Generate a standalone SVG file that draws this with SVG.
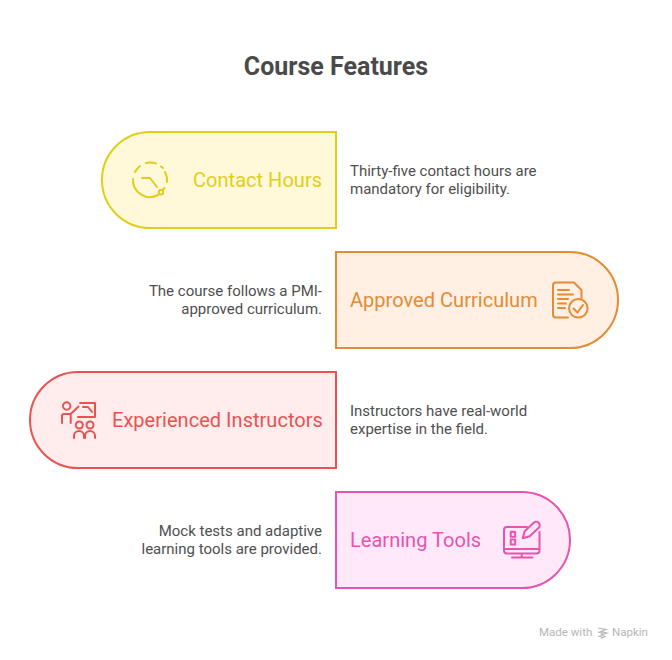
<svg xmlns="http://www.w3.org/2000/svg" width="672" height="660" viewBox="0 0 672 660">
<style>
text{font-family:Roboto,"Liberation Sans",sans-serif}
.title{font-size:25px;font-weight:700;fill:#4a4a4a}
.label{font-size:20px;letter-spacing:.03px}
.desc{font-size:15px;fill:#4f4f4f}
.wm{font-size:11.500px;fill:#b5b5b5}
.shape{stroke-width:2}
.icon{fill:none;stroke-width:2;stroke-linecap:round;stroke-linejoin:round}
.y{stroke:#e3cd18}.o{stroke:#e58a35}.r{stroke:#ea5252}.p{stroke:#e654b0}
</style>
<rect width="672" height="660" fill="#fff"/>
<text class="title" x="336" y="74.500" text-anchor="middle">Course Features</text>
<g id="node-contact-hours">
<path class="shape y" fill="#fff9d9" d="M336 132H150A48 48 0 0 0 150 228H336Z"/>
<g class="icon y">
<path d="M135 172A17 17 0 0 1 140 166M146 163A17 17 0 0 1 156 163.500M161 166.500A17 17 0 0 1 163 168M165 172A17 17 0 0 1 167 182M164.500 188L162.500 190M158 195A17 17 0 0 1 133 179"/>
<path d="M142 178h8l7 9"/>
<circle cx="161" cy="192.300" r="2.200"/>
</g>
<text class="label" x="193" y="187" fill="#e3cd18">Contact Hours</text>
</g>
<g id="node-approved-curriculum">
<path class="shape o" fill="#fff0e3" d="M336 252H570A48 48 0 0 1 570 348H336Z"/>
<g class="icon o">
<path d="M581.500 298V290L574 282.500H556a3 3 0 0 0-3 3V314.500a3 3 0 0 0 3 3H568"/>
<path d="M558 290h11M558 294.500h15M558 299h10M558 303.500h8M558 308h7"/>
<circle cx="578.300" cy="308.300" r="9.300"/>
<path d="M573.500 308.500l4 4 5.500-7.500"/>
</g>
<text class="label" x="350" y="307" fill="#e58a35">Approved Curriculum</text>
</g>
<g id="node-experienced-instructors">
<path class="shape r" fill="#ffecec" d="M336 372H78A48 48 0 0 0 78 468H336Z"/>
<g class="icon r">
<circle cx="66.700" cy="406" r="3.700"/>
<path d="M62 423V416a2 2 0 0 1 2-2H70.700L78.500 406.500M70.700 414V423"/>
<path d="M80 403H95V417H78M83 407h5l4 5"/>
<circle cx="79.300" cy="425" r="3.500"/><circle cx="90" cy="425" r="3.500"/>
<path d="M74 438v-2a5 5 0 0 1 10 0v2M85 438v-2a5 5 0 0 1 10 0v2"/>
</g>
<text class="label" x="112" y="427" fill="#ea5252">Experienced Instructors</text>
</g>
<g id="node-learning-tools">
<path class="shape p" fill="#ffe9f8" d="M336 492H522A48 48 0 0 1 522 588H336Z"/>
<g class="icon p">
<path d="M527 527H507a3 3 0 0 0-3 3V550.500a3 3 0 0 0 3 3H536.500a3 3 0 0 0 3-3V532M504 549h35.500M521.700 553.500v4M512 557.500h20.500"/>
<path d="M510.700 531.700h4.500v5h-4.500ZM510.700 539.500h4.500v5h-4.500Z"/>
<path d="M522.700 538.300l2-7 9-8.500a3 3 0 0 1 5 5l-9 8.500Z"/>
</g>
<text class="label" x="350" y="547" fill="#e654b0">Learning Tools</text>
</g>
<g id="descriptions">
<text class="desc" x="350" y="176">Thirty-five contact hours are</text>
<text class="desc" x="350" y="194">mandatory for eligibility.</text>
<text class="desc" x="322" y="296" text-anchor="end">The course follows a PMI-</text>
<text class="desc" x="322" y="314" text-anchor="end">approved curriculum.</text>
<text class="desc" x="350" y="416">Instructors have real-world</text>
<text class="desc" x="350" y="434">expertise in the field.</text>
<text class="desc" x="322" y="536" text-anchor="end">Mock tests and adaptive</text>
<text class="desc" x="322" y="554" text-anchor="end">learning tools are provided.</text>
</g>
<g id="watermark">
<text class="wm" x="539" y="636">Made with</text>
<path d="M598 628l8 1.500-5 2 6 1.500-6 2 4 1.500-4 2M598 632l5 1.500M598 636l4 1" fill="none" stroke="#b5b5b5" stroke-width="1.200"/>
<text class="wm" x="612" y="636">Napkin</text>
</g>
</svg>
